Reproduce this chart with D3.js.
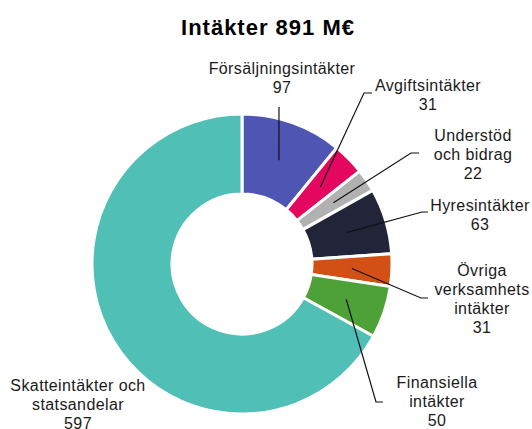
<!DOCTYPE html>
<html>
<head>
<meta charset="utf-8">
<script src="https://cdn.jsdelivr.net/npm/d3@7"></script>
<style>
  body { margin: 0; background: #fff; }
  text { font-family: "Liberation Sans", Arial, sans-serif; fill: #1a1a1a; }
</style>
</head>
<body>
<div id="chart"></div>
<script>
// data (M€)
const categories = ["Försäljningsintäkter", "Avgiftsintäkter", "Understöd och bidrag",
    "Hyresintäkter", "Övriga verksamhets intäkter", "Finansiella intäkter",
    "Skatteintäkter och statsandelar"];
const values = [97, 31, 22, 63, 31, 50, 597];
const labelLines = [
    ["Försäljningsintäkter"],
    ["Avgiftsintäkter"],
    ["Understöd", "och bidrag"],
    ["Hyresintäkter"],
    ["Övriga", "verksamhets", "intäkter"],
    ["Finansiella", "intäkter"],
    ["Skatteintäkter och", "statsandelar"]
];
const colors = ["#4f55b3", "#e4075f", "#b1b1b1", "#22253a", "#d24f16", "#4ea136", "#50bfb6"];

// label placement (hand-placed like the original)
const labelLayout = [
    {x: 282, y: 68, elbow: [279, 107], end: null},
    {x: 428, y: 85, elbow: [364, 93], end: [372, 93]},
    {x: 473, y: 135, elbow: [411, 153], end: [419, 153]},
    {x: 480, y: 205, elbow: [422, 212], end: [428, 212]},
    {x: 482, y: 270, elbow: [421, 298], end: [428, 298]},
    {x: 437, y: 382, elbow: [376, 402], end: [383, 402]},
    {x: 78, y: 385, elbow: null, end: null}
];

function main() {
    const width = 532, height = 429;
    const cx = 242, cy = 264;
    const outerR = 150, innerR = 70;

    const data = categories.map(function(c, i) {
        return {name: c, value: values[i], lines: labelLines[i], color: colors[i], pos: labelLayout[i]};
    });

    const svg = d3.select("#chart")
        .append("svg")
        .attr("width", width)
        .attr("height", height);

    // title
    svg.append("text")
        .attr("x", 268)
        .attr("y", 35)
        .attr("text-anchor", "middle")
        .style("font-size", "22px")
        .style("font-weight", "bold")
        .style("letter-spacing", "1px")
        .style("fill", "#000")
        .text("Intäkter " + d3.sum(values) + " M€");

    const pie = d3.pie()
        .value(function(d) { return d.value; })
        .sort(null);

    const arc = d3.arc()
        .innerRadius(innerR)
        .outerRadius(outerR);

    const g = svg.append("g")
        .attr("transform", `translate(${cx}, ${cy})`);

    const arcs = pie(data);

    g.selectAll(".slice")
        .data(arcs)
        .enter()
        .append("path")
        .attr("class", "slice")
        .attr("d", arc)
        .style("fill", function(d) { return d.data.color; })
        .style("stroke", "#fff")
        .style("stroke-width", 3);

    // leader lines
    svg.selectAll(".leader")
        .data(arcs.filter(function(d) { return d.data.pos.elbow; }))
        .enter()
        .append("polyline")
        .attr("class", "leader")
        .attr("points", function(d) {
            const c = arc.centroid(d);
            const pts = [[c[0] + cx, c[1] + cy], d.data.pos.elbow];
            if (d.data.pos.end) pts.push(d.data.pos.end);
            return pts.map(function(p) { return p.join(","); }).join(" ");
        })
        .style("fill", "none")
        .style("stroke", "#111")
        .style("stroke-width", 1.2);

    // labels: name lines + value
    const lineH = 19;
    const labels = svg.selectAll(".label")
        .data(data)
        .enter()
        .append("text")
        .attr("class", "label")
        .attr("text-anchor", "middle")
        .style("font-size", "16px")
        .style("letter-spacing", "0.4px");

    labels.each(function(d) {
        const t = d3.select(this);
        const rows = d.lines.concat([String(d.value)]);
        rows.forEach(function(r, i) {
            t.append("tspan")
                .attr("x", d.pos.x)
                .attr("y", d.pos.y + i * lineH)
                .attr("dominant-baseline", "central")
                .text(r);
        });
    });
}

main();
</script>
</body>
</html>
